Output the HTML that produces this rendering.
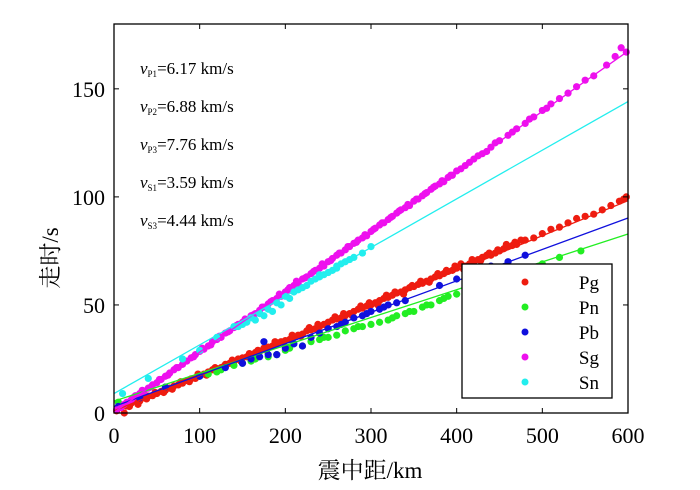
<!DOCTYPE html>
<html><head><meta charset="utf-8"><style>
body{margin:0;background:#fff}
svg{display:block;font-family:"Liberation Serif","Noto Serif CJK SC",serif}
</style></head><body>
<svg id="c" width="700" height="490">
</svg>
<script>
const xTicks=[0,100,200,300,400,500,600];
const yTicks=[0,50,100,150];
const seriesNames=["Pg","Pn","Pb","Sg","Sn"];
const seriesColors=["#ee1c10","#22ee22","#1010dd","#ee10ee","#22eeee"];
const fitSlopes=[1/6.17,1/7.76,1/6.88,1/3.59,1/4.44];
const fitIntercepts=[1,5.5,3,0.3,9];
const fitEnds=[600,600,600,600,600];
const velLabels=[["P1","6.17"],["P2","6.88"],["P3","7.76"],["S1","3.59"],["S3","4.44"]];
const pgPts=[[3,1],[8,2.5],[15,3.2],[20,4.5],[30,5.5],[40,7.8],[50,9],[60,10.5],[70,12.5],[80,13.8],[90,15.8],[100,17],[110,19],[120,20.5],[130,22.5],[140,23.8],[150,25.5],[160,27],[170,28.5],[180,30.5],[190,32],[200,33.5],[210,35],[220,36.5],[230,38.5],[240,40],[250,42],[260,43.5],[270,45],[280,47],[290,48.5],[300,50],[310,52],[320,53.5],[330,55.5],[340,57],[350,58.5],[360,60],[370,62],[380,63.5],[390,65.5],[400,67],[410,68],[420,70],[430,72],[440,73],[450,75],[460,77],[470,78],[480,80],[500,83],[520,86],[540,90],[560,92],[580,96],[595,99],[598,100],[12,0],[25,5.5],[35,7],[45,8],[55,10],[65,11.5],[75,13],[85,15],[95,16],[105,18],[115,20],[125,21],[135,23],[145,25],[155,26],[165,28],[175,30],[185,31],[195,33],[205,34],[215,36],[225,38],[235,39],[245,41],[255,43],[265,44],[275,46],[285,48],[295,49.5],[305,51],[315,53],[325,54.5],[335,56],[345,58],[355,59.5],[365,61],[375,63],[385,64.5],[395,66],[405,69],[415,69],[425,71],[435,73],[445,74],[455,76],[465,77.5],[18,3],[28,4],[38,6.5],[48,9.5],[58,9.5],[68,11],[78,14.5],[88,14.5],[98,18],[108,17.5],[118,21],[128,21.5],[138,24.5],[148,24],[158,27.5],[168,29],[178,29],[188,33],[198,32.5],[208,36],[218,35.5],[228,39.5],[238,41],[248,40.5],[258,44.5],[268,46],[278,45],[288,49.5],[298,51],[308,50],[318,54.5],[328,56],[338,55],[348,59],[358,61],[368,60.5],[378,64.5],[388,66],[398,68],[408,66.5],[418,71],[428,70.5],[438,74],[448,75.5],[458,78],[468,79],[475,80],[490,81],[510,85],[530,88],[550,91],[570,94],[590,98]];
const pnPts=[[5,5],[30,8],[60,12],[100,17],[120,19],[140,22],[160,24],[180,26],[200,29],[220,31],[240,34],[260,36],[280,39],[300,41],[320,43],[340,46],[360,49],[380,52],[400,55],[420,57],[440,60],[460,62],[480,67],[500,69],[520,72],[545,75],[110,18],[150,23],[190,27],[230,33],[250,35],[270,38],[290,40],[310,42],[330,45],[350,47],[370,50],[390,54],[410,56],[430,58],[125,20],[165,25],[205,30],[245,35],[285,40],[325,44],[345,47],[365,50],[385,53]];
const pbPts=[[5,3],[30,7],[60,12],[100,17],[130,21],[150,23],[160,25],[170,26],[175,33],[180,27],[190,27],[200,30],[210,32],[220,31],[240,37],[250,39],[260,40],[270,42],[280,44],[290,45],[300,47],[310,48],[320,50],[330,51],[340,52],[380,59],[400,62],[420,64],[440,68],[460,70],[480,73],[230,35],[265,41],[295,46],[315,49]];
const sgPts=[[3,1.5],[8,2.5],[15,5],[20,6],[30,9],[40,11.5],[50,14],[60,17],[70,20],[80,22.5],[90,25.5],[100,28.5],[110,31],[120,34],[130,37],[140,39.5],[150,42],[160,45],[170,47.5],[180,50.5],[190,53],[200,56],[210,59],[220,62],[230,64.5],[240,67],[250,70],[260,73],[270,75.5],[280,78.5],[290,81],[300,84],[310,87],[320,89.5],[330,92.5],[340,95],[350,98],[360,100.5],[370,103.5],[380,106],[390,109],[400,112],[410,114.5],[420,117.5],[430,120],[440,123],[450,126],[460,128.5],[470,131.5],[480,134],[490,137],[500,140],[510,143],[520,145.5],[540,151],[560,156],[575,161],[585,165],[592,169],[598,167],[25,8],[35,10],[45,13],[55,15.5],[65,18.5],[75,21],[85,24],[95,27],[105,29.5],[115,33],[125,35],[135,38],[145,41],[155,43],[165,46],[175,49],[185,52],[195,54],[205,58],[215,60],[225,63],[235,66],[245,68],[255,71.5],[265,74],[275,77],[285,80],[295,82],[305,85.5],[315,88],[325,91],[335,94],[345,96],[355,99],[365,102],[375,105],[385,107],[395,110],[405,113],[415,116],[425,119],[435,121],[12,4],[22,7],[33,10.5],[43,12],[53,15.5],[63,17.5],[73,21],[83,24],[93,26],[103,30],[113,31.5],[123,35.5],[133,37.5],[143,40.5],[153,43.5],[163,45.5],[173,49],[183,51.5],[193,55],[203,57],[213,61],[223,62.5],[233,65.5],[243,69],[253,70.5],[263,74],[273,77],[283,79],[293,82.5],[303,85],[313,88],[323,90.5],[333,93.5],[343,96.5],[353,99],[363,101.5],[373,104.5],[383,107.5],[393,110],[445,125],[465,130],[485,136],[505,141],[530,148],[550,154]];
const snPts=[[10,9],[40,16],[80,25],[100,29],[120,35],[140,40],[150,41],[160,44],[170,46],[180,48],[190,51],[200,54],[210,56],[220,58],[230,61],[240,63],[250,65],[255,66],[260,67],[270,70],[280,72],[290,74],[300,77],[260,68],[240,64],[185,47],[195,50],[205,53],[215,57],[225,59],[235,62],[245,64],[265,69],[275,71],[175,45],[165,43],[155,42],[145,40]];
const allPts=[pgPts,pnPts,pbPts,sgPts,snPts];

const L=114,R=628,T=24,B=413,XMAX=600,YMAX=180;
const sx=v=>L+(v/XMAX)*(R-L);
const sy=v=>B-(v/YMAX)*(B-T);
const NS="http://www.w3.org/2000/svg";
const svg=document.getElementById('c');
function mk(tag,attrs,parent){const e=document.createElementNS(NS,tag);for(const k in attrs)e.setAttribute(k,attrs[k]);(parent||svg).appendChild(e);return e;}

allPts.forEach((pts,i)=>{
  const g=mk('g',{});
  
  
  pts.forEach(p=>{
    const c=mk('circle',{cx:sx(p[0]),cy:sy(p[1]),r:3.6,fill:seriesColors[i]},g);
    
    
  });
});
fitSlopes.forEach((s,i)=>{
  const ln=mk('line',{x1:sx(0),y1:sy(fitIntercepts[i]),x2:sx(fitEnds[i]),y2:sy(fitIntercepts[i]+s*fitEnds[i]),stroke:seriesColors[i],'stroke-width':1.3});
  
  
});
const cover=mk('rect',{x:L,y:0,width:R-L+10,height:T,fill:'#fff'});


const fr=mk('rect',{x:L,y:T,width:R-L,height:B-T,fill:'none',stroke:'#000','stroke-width':1.3});


xTicks.forEach(v=>{
  const x=sx(v);
  mk('line',{x1:x,y1:B,x2:x,y2:B-5,stroke:'#000'});
  mk('line',{x1:x,y1:T,x2:x,y2:T+5,stroke:'#000'});
  const t=mk('text',{x:x,y:B+30,'text-anchor':'middle','font-size':22});
  t.textContent=v;
  
  
});
yTicks.forEach(v=>{
  const y=sy(v);
  mk('line',{x1:L,y1:y,x2:L+5,y2:y,stroke:'#000'});
  mk('line',{x1:R,y1:y,x2:R-5,y2:y,stroke:'#000'});
  const t=mk('text',{x:L-9,y:y+8,'text-anchor':'end','font-size':22});
  t.textContent=v;
  
  
});
const xt=mk('text',{x:370,y:478,'text-anchor':'middle','font-size':23});
xt.textContent='震中距/km';


const yt=mk('text',{x:0,y:0,'text-anchor':'middle','font-size':23,transform:'translate(58,258) rotate(-90)'});
yt.textContent='走时/s';


velLabels.forEach((v,i)=>{
  const t=mk('text',{x:140,y:74+i*38,'font-size':17});
  t.innerHTML='<tspan font-style="italic">v</tspan><tspan font-size="9" dy="3">'+v[0]+'</tspan><tspan dy="-3">='+v[1]+' km/s</tspan>';
  
  
});
const lg=mk('g',{});


mk('rect',{x:462,y:264,width:150,height:134,fill:'#fff',stroke:'#000','stroke-width':1.3},lg);
seriesNames.forEach((n,i)=>{
  const y=282+i*25;
  const e=mk('g',{},lg);
  
  
  mk('circle',{cx:525,cy:y,r:3.5,fill:seriesColors[i]},e);
  const t=mk('text',{x:599,y:y+7,'text-anchor':'end','font-size':19},e);
  t.textContent=n;
});
</script>
</body></html>
